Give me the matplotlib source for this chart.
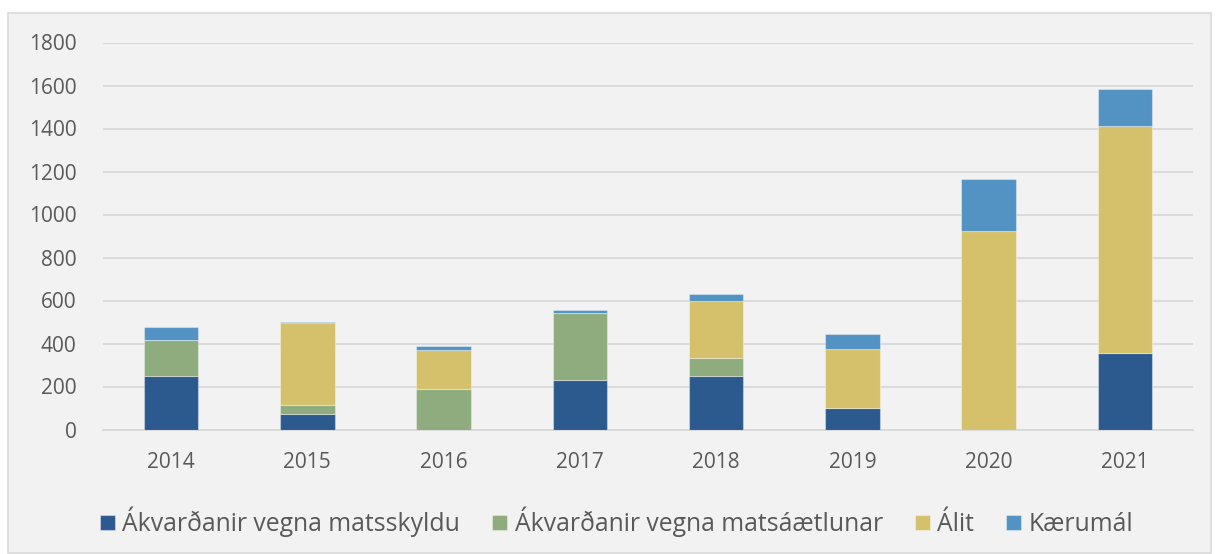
import matplotlib.pyplot as plt
import numpy as np
from matplotlib.patches import Rectangle

plt.rcParams['font.family'] = ['Open Sans', 'DejaVu Sans']

years = ["2014", "2015", "2016", "2017", "2018", "2019", "2020", "2021"]
labels = ["Ákvarðanir vegna matsskyldu", "Ákvarðanir vegna matsáætlunar", "Álit", "Kærumál"]
matsskylda = [248, 72, 0, 232, 248, 98, 0, 358]
matsaaetlun = [170, 44, 190, 310, 85, 0, 0, 0]
alit = [0, 378, 178, 0, 265, 276, 925, 1055]
kaerumal = [60, 5, 20, 15, 30, 70, 242, 172]
colors = ["#2D5A8E", "#8FAC7E", "#D5C16B", "#5293C4"]

fig = plt.figure(figsize=(12.19, 5.54), dpi=100, facecolor="white")
# grey chart area with thin border, behind everything
bg = Rectangle((8 / 1219, 1 / 554), 1203 / 1219, 540 / 554,
               transform=fig.transFigure, facecolor="#F2F2F2",
               edgecolor="#D9D9D9", lw=1.2, zorder=-10)
fig.add_artist(bg)

ax = fig.add_axes([103 / 1219, 1 - 429.5 / 554, 1090 / 1219, 387 / 554])
ax.set_facecolor("none")
ax.set_zorder(1)

x = np.arange(len(years))
bottom = np.zeros(len(years))
for vals, c, lab in zip([matsskylda, matsaaetlun, alit, kaerumal], colors, labels):
    vals = np.array(vals, dtype=float)
    ax.bar(x, vals, 0.40, bottom=bottom, color=c, label=lab,
           edgecolor=(1, 1, 1, 0.35), lw=0.8, zorder=3)
    bottom += vals

ax.set_xlim(-0.5, len(years) - 0.5)
ax.set_ylim(0, 1800)
ax.set_yticks(np.arange(0, 1801, 200))
ax.set_xticks(x)
ax.set_xticklabels(years)
ax.yaxis.grid(True, color="#D9D9D9", lw=1.3, zorder=0)
ax.set_axisbelow(True)
for s in ["top", "right", "left"]:
    ax.spines[s].set_visible(False)
ax.spines["bottom"].set_color("#D9D9D9")
ax.spines["bottom"].set_linewidth(1.3)
ax.tick_params(axis="both", length=0, labelsize=15, labelcolor="#595959")
ax.tick_params(axis="x", pad=16)
ax.tick_params(axis="y", pad=19)

leg = fig.legend(loc="center left", bbox_to_anchor=(100 / 1219, 1 - 522 / 554), ncol=4,
                 frameon=False, fontsize=17.8, handlelength=0.6, handleheight=0.6,
                 handletextpad=0.3, columnspacing=1.3, borderaxespad=0, borderpad=0)
for t in leg.get_texts():
    t.set_color("#595959")

fig.savefig("out.png", dpi=100, facecolor="white")
